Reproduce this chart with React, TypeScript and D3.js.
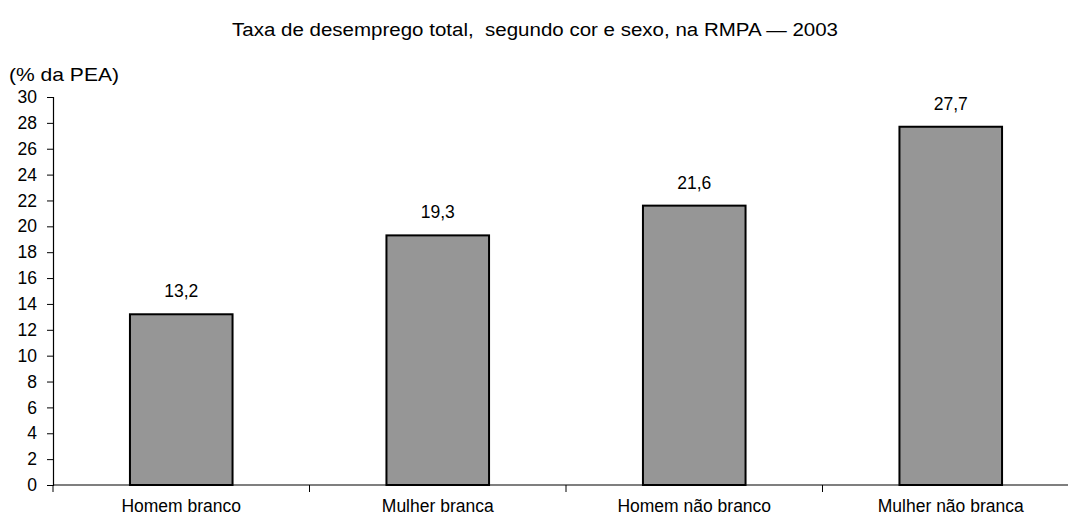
import * as React from 'react';
import * as d3 from 'd3';

const categories: string[] = ['Homem branco', 'Mulher branca', 'Homem não branco', 'Mulher não branca'];
const rates: number[] = [13.2, 19.3, 21.6, 27.7];
const yTicks: number[] = [0, 2, 4, 6, 8, 10, 12, 14, 16, 18, 20, 22, 24, 26, 28, 30];

const title = 'Taxa de desemprego total,  segundo cor e sexo, na RMPA — 2003';
const unitLabel = '(% da PEA)';

const W = 1068, H = 525;
const FONT = '"Liberation Sans", Arial, sans-serif';

const App = () => {
  const svgRef = React.useRef<SVGSVGElement>(null);

  React.useEffect(() => {
    const svg = d3.select(svgRef.current);
    svg.selectAll('*').remove();

    const left = 53, right = 1079, top = 97, bottom = 485;

    const x = d3.scaleBand<string>()
      .domain(categories)
      .range([left, right])
      .paddingInner(0.6)
      .paddingOuter(0.3);
    const step = x.step();

    const y = d3.scaleLinear().domain([0, 30]).range([bottom, top]);

    // title is drawn a bit wide in the original
    svg.append('text')
      .attr('x', 232).attr('y', 36)
      .style('white-space', 'pre')
      .attr('font-family', FONT).attr('font-size', 18)
      .attr('textLength', 606)
      .attr('lengthAdjust', 'spacingAndGlyphs')
      .text(title);

    svg.append('text')
      .attr('x', 9).attr('y', 81)
      .attr('font-family', FONT).attr('font-size', 18.5)
      .attr('textLength', 110)
      .attr('lengthAdjust', 'spacingAndGlyphs')
      .text(unitLabel);

    // y axis
    const yAxis = svg.append('g').attr('transform', `translate(${left},0)`)
      .call(d3.axisLeft(y).tickValues(yTicks).tickSize(6).tickPadding(10).tickFormat(d3.format('d')));
    yAxis.select('.domain').attr('stroke', '#000').attr('stroke-width', 1.2);
    yAxis.selectAll('line').attr('stroke', '#000');
    yAxis.selectAll('text').attr('font-family', FONT).attr('font-size', 17.5).attr('fill', '#000');

    // x axis line and ticks at category boundaries
    svg.append('line')
      .attr('x1', left).attr('x2', right)
      .attr('y1', bottom).attr('y2', bottom)
      .attr('stroke', '#000').attr('stroke-width', 1.2);
    svg.selectAll('line.xtick')
      .data(categories)
      .enter()
      .append('line')
      .attr('class', 'xtick')
      .attr('x1', (d) => (x(d) as number) - step * 0.3 + step)
      .attr('x2', (d) => (x(d) as number) - step * 0.3 + step)
      .attr('y1', bottom).attr('y2', bottom + 7)
      .attr('stroke', '#000');
    svg.append('line')
      .attr('x1', left).attr('x2', left)
      .attr('y1', bottom).attr('y2', bottom + 7)
      .attr('stroke', '#000');

    svg.selectAll('text.cat')
      .data(categories)
      .enter()
      .append('text')
      .attr('class', 'cat')
      .attr('x', (d) => (x(d) as number) + x.bandwidth() / 2)
      .attr('y', 512)
      .attr('text-anchor', 'middle')
      .attr('font-family', FONT).attr('font-size', 17.5)
      .text((d) => d);

    svg.selectAll('rect.bar')
      .data(rates)
      .enter()
      .append('rect')
      .attr('class', 'bar')
      .attr('x', (_d, i) => x(categories[i]) as number)
      .attr('y', (d) => y(d))
      .attr('width', x.bandwidth())
      .attr('height', (d) => bottom - y(d))
      .attr('fill', '#969696')
      .attr('stroke', '#000')
      .attr('stroke-width', 2);

    svg.selectAll('text.val')
      .data(rates)
      .enter()
      .append('text')
      .attr('class', 'val')
      .attr('x', (_d, i) => (x(categories[i]) as number) + x.bandwidth() / 2)
      .attr('y', (d) => y(d) - 17)
      .attr('text-anchor', 'middle')
      .attr('font-family', FONT).attr('font-size', 17.5)
      .text((d) => d.toFixed(1).replace('.', ','));
  }, []);

  return <svg ref={svgRef} width={W} height={H} style={{ position: 'absolute', left: 0, top: 0, background: '#fff' }} />;
};

export default App;
